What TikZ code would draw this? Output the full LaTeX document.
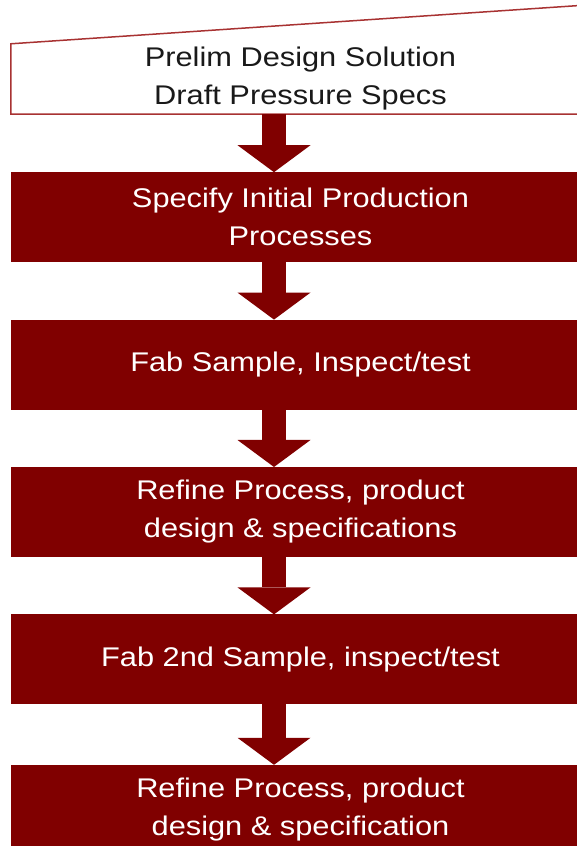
\documentclass[tikz,border=0pt]{standalone}
\usepackage{fontspec}
\setmainfont{Liberation Sans}[FakeStretch=1.14]
\usepackage{tikz}
\usetikzlibrary{arrows.meta, positioning}
\definecolor{maroon}{HTML}{800000}
\definecolor{edgered}{HTML}{A83232}

\begin{document}
\begin{tikzpicture}[
    x=1pt, y=1pt,
    node distance=58pt,
    box/.style={rectangle, fill=maroon, draw=maroon, text=white, minimum width=579pt, minimum height=89pt, inner sep=0pt, align=center, font=\fontsize{27}{38}\selectfont},
    toplabel/.style={rectangle, text=black!90, minimum width=579pt, minimum height=70pt, inner sep=0pt, align=center, font=\fontsize{27}{38}\selectfont},
    outline/.style={draw=edgered, line width=1.5pt},
    arrow/.style={maroon, line width=24pt, -{Triangle[width=73pt, length=27pt, line width=0pt]}}
]

\clip (0,0) rectangle (577,846);

% Nodes
\node[toplabel] (prelim) at (300.5,767) {Prelim Design Solution\\Draft Pressure Specs};
\draw[outline] (prelim.south west) -- (prelim.north west) -- ([yshift=39pt]prelim.north east) -- (prelim.south east) -- cycle;

\node[box, below=of prelim] (spec) {Specify Initial Production\\Processes};

\node[box, below=of spec] (fab) {Fab Sample, Inspect/test};

\node[box, below=of fab] (refine) {Refine Process, product\\design \& specifications};

\node[box, below=of refine] (fabtwo) {Fab 2nd Sample, inspect/test};

\node[box, below=61pt of fabtwo] (refinetwo) {Refine Process, product\\design \& specification};

% Arrows
\draw[arrow] ([xshift=-26.5pt]prelim.south) -- ([xshift=-26.5pt]spec.north);
\draw[arrow] ([xshift=-26.5pt]spec.south) -- ([xshift=-26.5pt]fab.north);
\draw[arrow] ([xshift=-26.5pt]fab.south) -- ([xshift=-26.5pt]refine.north);
\draw[arrow] ([xshift=-26.5pt]refine.south) -- ([xshift=-26.5pt]fabtwo.north);
\draw[arrow] ([xshift=-26.5pt]fabtwo.south) -- ([xshift=-26.5pt]refinetwo.north);

\end{tikzpicture}
\end{document}
